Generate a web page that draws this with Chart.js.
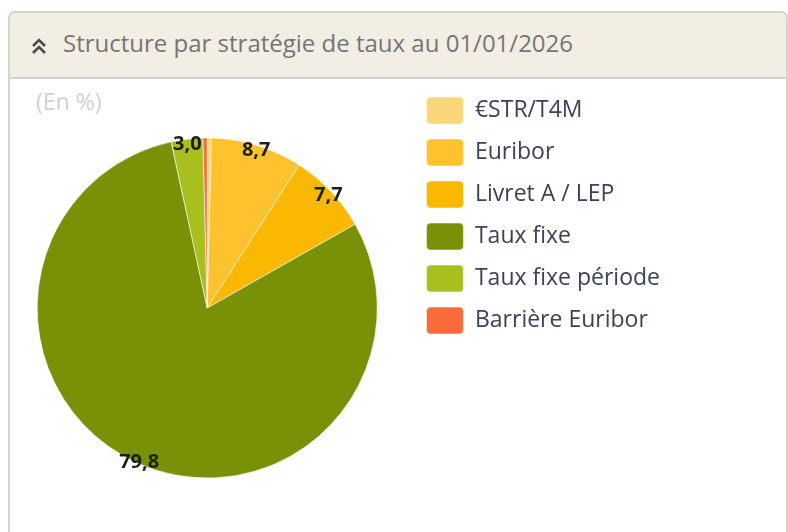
<!DOCTYPE html>
<html>
<head>
<meta charset="utf-8">
<script src="https://cdn.jsdelivr.net/npm/chart.js@4.4.1/dist/chart.umd.min.js"></script>
<style>
  body { margin: 0; width: 788px; height: 532px; overflow: hidden; background: #fff; font-family: "Open Sans", sans-serif; }
  .panel { position: absolute; left: 8px; top: 11px; width: 776px; height: 560px; border: 2px solid #d4d2cd; border-radius: 7px; }
  .header { height: 64px; background: #f2eee4; border-bottom: 2px solid #d4d2cd; border-radius: 6px 6px 0 0; position: relative; }
  .header svg { position: absolute; left: 20px; top: 24px; }
  .header span { position: absolute; left: 53px; top: 13px; font-size: 24px; color: #757575; }
  .unit { position: absolute; left: 36px; top: 85px; font-size: 23px; color: #d2d2d2; }
  #wrap { position: absolute; left: 0; top: 79px; }
</style>
</head>
<body>
<div class="panel">
  <div class="header">
    <svg width="18" height="18" viewBox="0 0 18 18"><polyline points="3,9 9,3 15,9" fill="none" stroke="#4a4a4a" stroke-width="2.6"/><polyline points="3,16 9,10 15,16" fill="none" stroke="#4a4a4a" stroke-width="2.6"/></svg>
    <span>Structure par stratégie de taux au 01/01/2026</span>
  </div>
</div>
<div class="unit">(En %)</div>
<div id="wrap"><canvas id="testchart" width="788" height="455"></canvas></div>
<script>
const strategies = ['€STR/T4M', 'Euribor', 'Livret A / LEP', 'Taux fixe', 'Taux fixe période', 'Barrière Euribor'];
const parts = [0.4, 8.7, 7.7, 79.8, 3.0, 0.4];
const colours = ['#FAD67A', '#FDC22D', '#FBB800', '#799107', '#A8BF1E', '#F96B3A'];

// values written along the edge of each slice
const sliceLabels = {
    id: 'sliceLabels',
    afterDatasetsDraw(chart) {
        const ctx = chart.ctx;
        const meta = chart.getDatasetMeta(0);
        ctx.save();
        ctx.font = 'bold 20px "Open Sans"';
        ctx.fillStyle = '#1e1e1e';
        ctx.textAlign = 'center';
        ctx.textBaseline = 'middle';
        meta.data.forEach((arc, i) => {
            if (parts[i] < 1) return;
            const p = arc.getProps(['x', 'y', 'startAngle', 'endAngle', 'outerRadius'], true);
            const mid = (p.startAngle + p.endAngle) / 2;
            const r = p.outerRadius * 0.98;
            ctx.fillText(parts[i].toFixed(1).replace('.', ','), p.x + Math.cos(mid) * r, p.y + Math.sin(mid) * r + 2);
        });
        ctx.restore();
    }
};

let select = document.getElementById('testchart');
let currentchart = new Chart(select, {
    type: 'pie',
    data: {
        labels: strategies,
        datasets: [{
            data: parts,
            backgroundColor: colours,
            borderColor: 'rgba(255,255,255,0.55)',
            borderWidth: 1,
            radius: 170
        }]
    },
    options: {
        responsive: false,
        animation: false,
        events: [],
        layout: { padding: { left: 3, top: 3, right: 118, bottom: 0 } },
        plugins: {
            tooltip: { enabled: false },
            legend: {
                position: 'right',
                align: 'start',
                labels: {
                    boxWidth: 37,
                    boxHeight: 27,
                    padding: 15,
                    useBorderRadius: true,
                    borderRadius: 4,
                    color: '#3c4257',
                    font: { family: 'Open Sans', size: 23 }
                }
            }
        }
    },
    plugins: [sliceLabels]
});
</script>
</body>
</html>
